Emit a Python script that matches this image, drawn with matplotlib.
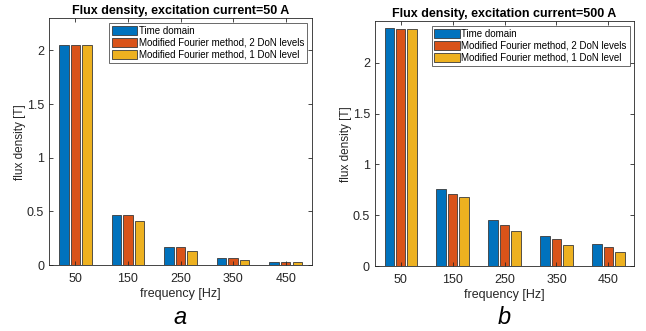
import numpy as np
import matplotlib
matplotlib.use("Agg")
import matplotlib.pyplot as plt

freqs = [50, 150, 250, 350, 450]
series_names = ["Time domain",
                "Modified Fourier method, 2 DoN levels",
                "Modified Fourier method, 1 DoN level"]

# flux density [T], excitation current 50 A
b50_time = [2.05, 0.47, 0.17, 0.065, 0.03]
b50_mf2 = [2.05, 0.47, 0.17, 0.065, 0.03]
b50_mf1 = [2.05, 0.41, 0.13, 0.047, 0.028]

# flux density [T], excitation current 500 A
b500_time = [2.34, 0.76, 0.45, 0.30, 0.22]
b500_mf2 = [2.33, 0.71, 0.40, 0.265, 0.19]
b500_mf1 = [2.33, 0.68, 0.35, 0.21, 0.14]

colors = ["#0072BD", "#D95319", "#EDB120"]

plt.rcParams["font.family"] = ["Arial", "Liberation Sans", "DejaVu Sans"]

fig = plt.figure(figsize=(6.46, 3.31), dpi=100)
ax_a = fig.add_axes([0.076, 0.199, 0.407, 0.746])
ax_b = fig.add_axes([0.580, 0.196, 0.402, 0.740])


def bar_panel(ax, data, title, ytop):
    x = np.array(freqs, dtype=float)
    step, width = 22, 18
    for i, (vals, c, name) in enumerate(zip(data, colors, series_names)):
        ax.bar(x + (i - 1) * step, vals, width=width, color=c,
               edgecolor="#3a3a3a", linewidth=0.6, label=name)
    ax.set_xlim(0, 500)
    ax.set_ylim(0, ytop)
    ax.set_xticks(freqs)
    ax.set_yticks([0, 0.5, 1, 1.5, 2])
    ax.set_yticklabels(["0", "0.5", "1", "1.5", "2"])
    ax.tick_params(direction="in", length=3, width=0.6, colors="#262626",
                   labelsize=9, top=True, right=True)
    ax.tick_params(axis="x", pad=6)
    for s in ax.spines.values():
        s.set_color("#262626")
        s.set_linewidth(0.6)
    ax.set_title(title, fontsize=9, fontweight="bold", pad=3)
    ax.set_xlabel("frequency [Hz]", fontsize=9, color="#262626", labelpad=2)
    ax.set_ylabel("flux density [T]", fontsize=8.5, color="#262626", labelpad=0.5)
    leg = ax.legend(loc="upper right", fontsize=7, frameon=True,
                    fancybox=False, handlelength=2.6, handleheight=1.0,
                    handletextpad=0.15, labelspacing=0.2, borderpad=0.3,
                    borderaxespad=0.5)
    leg.get_frame().set_edgecolor("#262626")
    leg.get_frame().set_linewidth(0.6)


bar_panel(ax_a, [b50_time, b50_mf2, b50_mf1],
          "Flux density, excitation current=50 A", 2.3)
bar_panel(ax_b, [b500_time, b500_mf2, b500_mf1],
          "Flux density, excitation current=500 A", 2.41)

fig.text(0.279, 0.022, "a", fontsize=17, style="italic", ha="center")
fig.text(0.781, 0.022, "b", fontsize=17, style="italic", ha="center")

fig.savefig("out.png", dpi=100)
